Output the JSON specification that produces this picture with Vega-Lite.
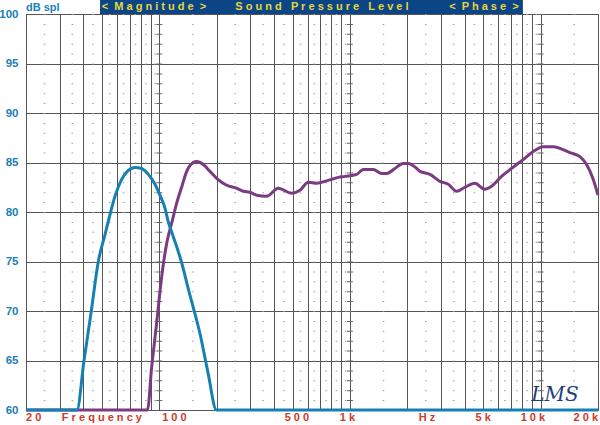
{
  "$schema": "https://vega.github.io/schema/vega-lite/v6.json",
  "width": 572,
  "height": 396,
  "autosize": {"type": "none"},
  "padding": {"left": 26, "top": 14, "right": 2, "bottom": 15},
  "background": "white",
  "config": {
    "view": {"stroke": "#555", "strokeWidth": 1},
    "font": "Liberation Sans"
  },
  "datasets": {
    "blue": [
      {"f": 20, "db": 60}, {"f": 37, "db": 60}, {"f": 40.3, "db": 65}, {"f": 44.0, "db": 70},
      {"f": 47.9, "db": 75}, {"f": 51.9, "db": 77.7}, {"f": 55.6, "db": 80.0}, {"f": 58.6, "db": 81.6},
      {"f": 63.5, "db": 83.3}, {"f": 68.8, "db": 84.2}, {"f": 74.6, "db": 84.5}, {"f": 80.9, "db": 84.4},
      {"f": 87.6, "db": 83.8}, {"f": 95.0, "db": 82.8}, {"f": 100.8, "db": 81.7}, {"f": 107.1, "db": 80.4},
      {"f": 111.5, "db": 79.0}, {"f": 117, "db": 77.8}, {"f": 130.5, "db": 75.0}, {"f": 143, "db": 72.0},
      {"f": 164, "db": 67.6}, {"f": 180, "db": 63.8}, {"f": 199.5, "db": 60}, {"f": 20000, "db": 60}
    ],
    "purple": [
      {"f": 20, "db": 60}, {"f": 86.7, "db": 60}, {"f": 91.3, "db": 64.4}, {"f": 96.9, "db": 68.8},
      {"f": 103, "db": 73.5}, {"f": 109.8, "db": 77.0}, {"f": 116.6, "db": 79.0}, {"f": 123.8, "db": 81.0},
      {"f": 131.5, "db": 82.6}, {"f": 138.0, "db": 83.9}, {"f": 144.9, "db": 84.7}, {"f": 157.1, "db": 85.1},
      {"f": 170.1, "db": 84.8},
      {"f": 184.5, "db": 84.1}, {"f": 200, "db": 83.4}, {"f": 225.7, "db": 82.7}, {"f": 254.6, "db": 82.4},
      {"f": 275.8, "db": 82.1}, {"f": 299, "db": 82.0}, {"f": 324.2, "db": 81.7}, {"f": 366, "db": 81.6},
      {"f": 420.8, "db": 82.4}, {"f": 494.6, "db": 81.9}, {"f": 547, "db": 82.2}, {"f": 604.5, "db": 83.0},
      {"f": 669, "db": 82.9}, {"f": 769.6, "db": 83.2}, {"f": 868, "db": 83.5}, {"f": 941.6, "db": 83.6},
      {"f": 1084, "db": 83.8}, {"f": 1175, "db": 84.3}, {"f": 1325, "db": 84.3}, {"f": 1467, "db": 83.9},
      {"f": 1558, "db": 83.9}, {"f": 1722, "db": 84.4}, {"f": 1903, "db": 84.9}, {"f": 2022, "db": 84.9},
      {"f": 2238, "db": 84.4}, {"f": 2330, "db": 84.1}, {"f": 2628, "db": 83.8}, {"f": 2964, "db": 83.1},
      {"f": 3278, "db": 82.8}, {"f": 3627, "db": 82.1}, {"f": 4010, "db": 82.5}, {"f": 4523, "db": 82.9},
      {"f": 5106, "db": 82.3}, {"f": 5534, "db": 82.6}, {"f": 6244, "db": 83.6}, {"f": 7046, "db": 84.4},
      {"f": 8106, "db": 85.3}, {"f": 9146, "db": 86.1}, {"f": 10320, "db": 86.6}, {"f": 11650, "db": 86.6},
      {"f": 13140, "db": 86.3}, {"f": 14250, "db": 86.0}, {"f": 16080, "db": 85.6}, {"f": 17430, "db": 84.8},
      {"f": 18870, "db": 83.3}, {"f": 20000, "db": 81.7}
    ],
    "minor": [
      {"f": 25}, {"f": 35}, {"f": 45}, {"f": 55}, {"f": 65}, {"f": 75}, {"f": 85}, {"f": 95},
      {"f": 150}, {"f": 250}, {"f": 350}, {"f": 450}, {"f": 550}, {"f": 650}, {"f": 750}, {"f": 850}, {"f": 950},
      {"f": 1500}, {"f": 2500}, {"f": 3500}, {"f": 4500}, {"f": 5500}, {"f": 6500}, {"f": 7500}, {"f": 8500}, {"f": 9500},
      {"f": 15000}
    ],
    "decades": [{"f": 100}, {"f": 1000}, {"f": 10000}],
    "xl_left": [{"f": 20, "t": "2 0"}],
    "xl_center": [
      {"f": 50, "t": "F r e q u e n c y"},
      {"f": 120, "t": "1 0 0"},
      {"f": 527, "t": "5 0 0"},
      {"f": 970, "t": "1 k"},
      {"f": 2534, "t": "H z"},
      {"f": 5000, "t": "5 k"},
      {"f": 9114, "t": "1 0 k"}
    ],
    "xl_right": [{"f": 20000, "t": "2 0 k"}],
    "banner": [{"f1": 48.9, "f2": 8076, "d1": 100, "d2": 101.5}],
    "bannertext": [
      {"f": 93.8, "t": "<\u00a0\u00a0M a g n i t u d e\u00a0\u00a0>"},
      {"f": 713, "t": "S o u n d\u00a0\u00a0\u00a0P r e s s u r e\u00a0\u00a0\u00a0L e v e l"},
      {"f": 5044, "t": "<\u00a0\u00a0P h a s e\u00a0\u00a0>"}
    ],
    "ylabel": [{"f": 20, "db": 100.65, "t": "dB spl"}],
    "logo": [{"f": 11886, "db": 61.5, "t": "LMS"}]
  },
  "layer": [
    {
      "data": {"name": "minor"},
      "mark": {"type": "rule", "color": "#9a9a9a", "strokeWidth": 1.5, "strokeDash": [1, 8.9]},
      "encoding": {
        "x": {
          "field": "f", "type": "quantitative",
          "scale": {"type": "log", "domain": [20, 20000], "nice": false},
          "axis": {
            "values": [30, 40, 50, 60, 70, 80, 90, 100, 200, 300, 400, 500, 600, 700, 800, 900, 1000, 2000, 3000, 4000, 5000, 6000, 7000, 8000, 9000, 10000],
            "grid": true, "gridColor": "#555", "gridWidth": 1, "gridOpacity": 1,
            "labels": false, "ticks": false, "domain": false, "title": null
          }
        }
      }
    },
    {
      "data": {"name": "decades"},
      "mark": {"type": "rule", "color": "#666", "strokeWidth": 6, "strokeDash": [1, 8.9]},
      "encoding": {"x": {"field": "f", "type": "quantitative"}}
    },
    {
      "data": {"name": "banner"},
      "mark": {"type": "rect", "color": "#0b4586"},
      "encoding": {
        "x": {"field": "f1", "type": "quantitative"},
        "x2": {"field": "f2"},
        "y": {
          "field": "d1", "type": "quantitative",
          "scale": {"domain": [60, 100], "nice": false, "zero": false},
          "axis": {
            "values": [60, 65, 70, 75, 80, 85, 90, 95, 100],
            "grid": true, "gridColor": "#555", "gridWidth": 1, "gridOpacity": 1,
            "ticks": false, "domain": false, "title": null,
            "labelColor": "#1a80b8", "labelFontWeight": "bold", "labelFontSize": 11.5,
            "labelFont": "Liberation Sans", "labelPadding": 8
          }
        },
        "y2": {"field": "d2"}
      }
    },
    {
      "data": {"name": "bannertext"},
      "mark": {"type": "text", "color": "#e6d53c", "fontWeight": "bold", "fontSize": 11, "font": "Liberation Sans", "align": "center", "baseline": "middle"},
      "encoding": {
        "x": {"field": "f", "type": "quantitative"},
        "y": {"datum": 100.75, "type": "quantitative"},
        "text": {"field": "t"}
      }
    },
    {
      "data": {"name": "ylabel"},
      "mark": {"type": "text", "color": "#1a80b8", "fontWeight": "bold", "fontSize": 11, "font": "Liberation Sans", "align": "left", "baseline": "middle"},
      "encoding": {
        "x": {"field": "f", "type": "quantitative"},
        "y": {"field": "db", "type": "quantitative"},
        "text": {"field": "t"}
      }
    },
    {
      "data": {"name": "xl_left"},
      "mark": {"type": "text", "color": "#cc3a2a", "fontWeight": "bold", "fontSize": 11, "font": "Liberation Sans", "baseline": "middle", "align": "left"},
      "encoding": {
        "x": {"field": "f", "type": "quantitative"},
        "y": {"datum": 59.2, "type": "quantitative"},
        "text": {"field": "t"}
      }
    },
    {
      "data": {"name": "xl_center"},
      "mark": {"type": "text", "color": "#cc3a2a", "fontWeight": "bold", "fontSize": 11, "font": "Liberation Sans", "baseline": "middle", "align": "center"},
      "encoding": {
        "x": {"field": "f", "type": "quantitative"},
        "y": {"datum": 59.2, "type": "quantitative"},
        "text": {"field": "t"}
      }
    },
    {
      "data": {"name": "xl_right"},
      "mark": {"type": "text", "color": "#cc3a2a", "fontWeight": "bold", "fontSize": 11, "font": "Liberation Sans", "baseline": "middle", "align": "right"},
      "encoding": {
        "x": {"field": "f", "type": "quantitative"},
        "y": {"datum": 59.2, "type": "quantitative"},
        "text": {"field": "t"}
      }
    },
    {
      "data": {"name": "logo"},
      "mark": {"type": "text", "color": "#1d3f7a", "fontStyle": "italic", "fontSize": 20, "font": "DejaVu Serif", "align": "center", "baseline": "middle"},
      "encoding": {
        "x": {"field": "f", "type": "quantitative"},
        "y": {"field": "db", "type": "quantitative"},
        "text": {"field": "t"}
      }
    },
    {
      "data": {"name": "purple"},
      "mark": {"type": "line", "color": "#7b3a82", "strokeWidth": 3, "interpolate": "monotone"},
      "encoding": {
        "x": {"field": "f", "type": "quantitative"},
        "y": {"field": "db", "type": "quantitative"}
      }
    },
    {
      "data": {"name": "blue"},
      "mark": {"type": "line", "color": "#1580b4", "strokeWidth": 3, "interpolate": "monotone"},
      "encoding": {
        "x": {"field": "f", "type": "quantitative"},
        "y": {"field": "db", "type": "quantitative"}
      }
    }
  ]
}
